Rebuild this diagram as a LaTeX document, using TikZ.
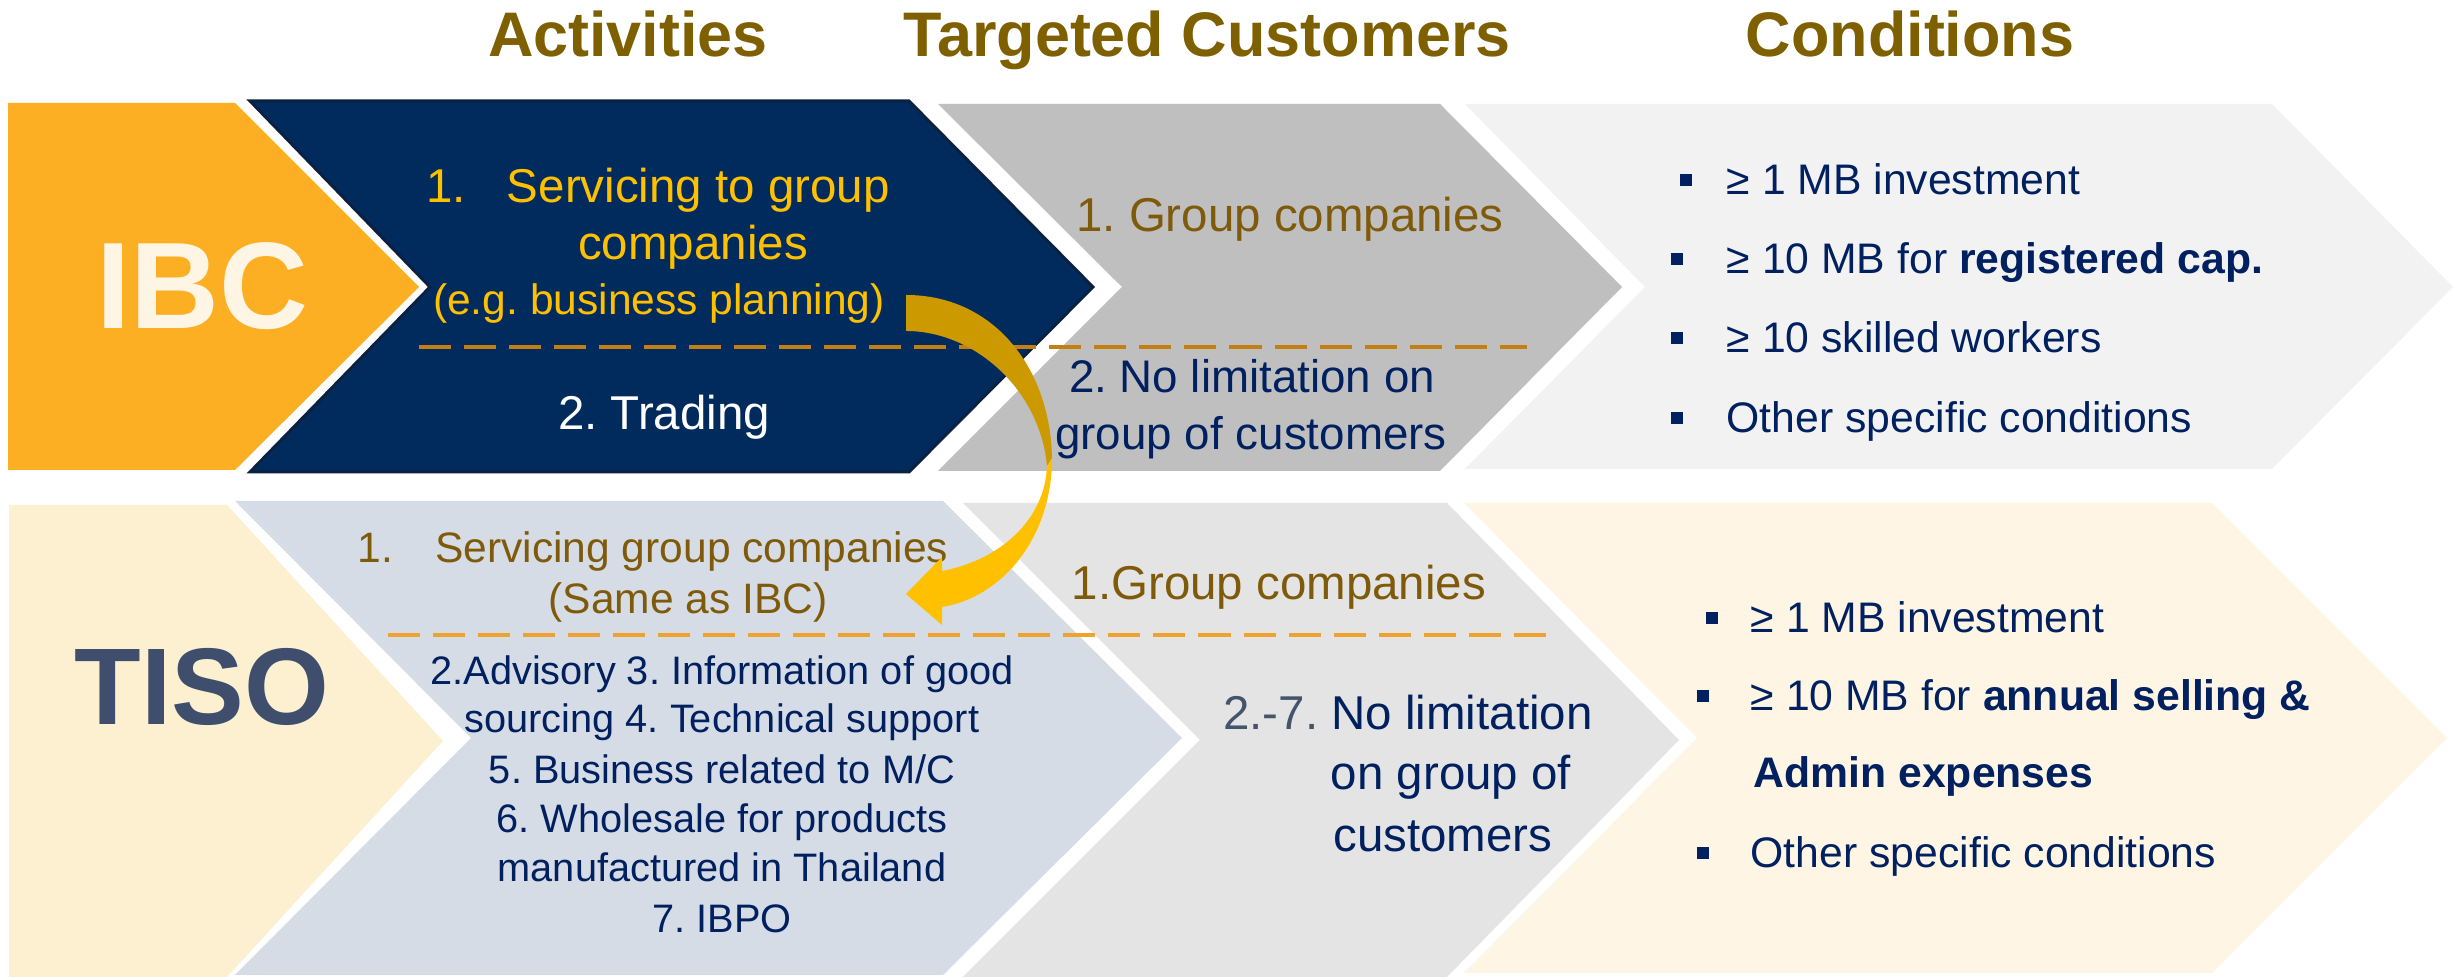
\documentclass[tikz,border=0pt]{standalone}
\usepackage{fontspec}
\setmainfont{Liberation Sans}
\usepackage{xcolor}
\usetikzlibrary{positioning}
\frenchspacing

\definecolor{ibcorange}{HTML}{FCAF22}
\definecolor{ibccream}{HTML}{FFF5E5}
\definecolor{navybox}{HTML}{002B5C}
\definecolor{navyedge}{HTML}{0A2142}
\definecolor{custgray}{HTML}{BFBFBF}
\definecolor{condgray}{HTML}{F2F2F2}
\definecolor{tisoyellow}{HTML}{FDF0D0}
\definecolor{tisoslate}{HTML}{3F4E6D}
\definecolor{tisoblue}{HTML}{D6DCE5}
\definecolor{custlight}{HTML}{E4E4E4}
\definecolor{condcream}{HTML}{FEF5E5}
\definecolor{hdrgold}{HTML}{7F6000}
\definecolor{brown}{HTML}{7F5A0B}
\definecolor{gold}{HTML}{FFC000}
\definecolor{navytext}{HTML}{002060}
\definecolor{slate}{HTML}{44546A}
\definecolor{dashdark}{HTML}{C47E12}
\definecolor{dashlight}{HTML}{F0A22E}
\definecolor{arrowdark}{HTML}{CC9900}

\begin{document}
\begin{tikzpicture}[x=0.01cm, y=-0.01cm,
    hdr/.style={anchor=base, inner sep=0pt, text=hdrgold, font=\fontsize{17.9}{20}\selectfont\bfseries},
    big/.style={anchor=base, inner sep=0pt, font=\fontsize{35}{40}\selectfont\bfseries},
    body/.style={anchor=base, inner sep=0pt, font=\fontsize{13.5}{16}\selectfont},
    small/.style={anchor=base, inner sep=0pt, font=\fontsize{12.1}{14}\selectfont},
    list/.style={anchor=base, inner sep=0pt, text=navytext, font=\fontsize{11.3}{13}\selectfont},
    cond/.style={anchor=base west, inner sep=0pt, text=navytext, font=\fontsize{12.15}{14}\selectfont},
    bullet/.style={fill=navytext, minimum size=0.12cm, inner sep=0pt},
    sep/.style={line width=0.04cm, dash pattern=on 0.32cm off 0.13cm}]

  \fill[white] (0,0) rectangle (2453,977);
  \useasboundingbox (0,0) rectangle (2453,977);

  % chevrons, top row
  \fill[ibcorange] (8,103) -- (235,103) -- (419,287) -- (235,470) -- (8,470) -- cycle;
  \filldraw[fill=navybox, draw=navyedge, line width=0.03cm] (250,101) -- (909,101) -- (1093,287)
    -- (909,472) -- (250,472) -- (430,287) -- cycle;
  \fill[custgray] (938,104) -- (1440,104) -- (1622,287) -- (1440,471) -- (938,471) -- (1122,287) -- cycle;
  \fill[condgray] (1465,104) -- (2272,104) -- (2453,287) -- (2272,469) -- (1465,469) -- (1645,287) -- cycle;

  % chevrons, bottom row
  \fill[tisoyellow] (9,505) -- (227,505) -- (443,741) -- (227,977) -- (9,977) -- cycle;
  \fill[tisoblue] (235,501) -- (943,501) -- (1182,738) -- (943,975) -- (235,975) -- (471,738) -- cycle;
  \fill[custlight] (963,503) -- (1447,503) -- (1679,740) -- (1447,977) -- (963,977) -- (1200,740) -- cycle;
  \fill[condcream] (1464,503) -- (2212,503) -- (2447,738) -- (2212,973) -- (1464,973) -- (1697,738) -- cycle;

  % headers
  \node[hdr] (act) at (628,57) {Activities};
  \node[hdr] (cust) at (1207,57) {Targeted Customers};
  \node[hdr] (cond) at (1910,57) {Conditions};

  \node[big, text=ibccream] (ibc) at (202,329) {IBC};
  \node[big, text=tisoslate, font=\fontsize{31}{36}\selectfont\bfseries] (tiso) at (202,725) {TISO};

  % separators
  \coordinate (sepA) at (419,347);
  \coordinate (sepB) at (1527,347);
  \draw[sep, draw=dashdark] (sepA) -- (sepB);
  \coordinate (sepC) at (388,635);
  \coordinate (sepD) at (1547,635);
  \draw[sep, draw=dashlight] (sepC) -- (sepD);

  % IBC activities
  \node[body, text=gold] (ibcsvc) at (658,203) {1.\hspace{0.41cm}Servicing to group};
  \node[body, text=gold] (ibccomp) at (693,260) {companies};
  \node[small, text=gold] (ibceg) at (659,315) {(e.g. business planning)};
  \node[body, text=white] (ibctrd) at (664,430) {2. Trading};

  % IBC customers
  \node[body, text=brown] (ibcgrp) at (1290,232) {1. Group companies};
  \node[body, text=navytext, font=\fontsize{13}{15}\selectfont] (ibcnolim) at (1252,393) {2. No limitation on};
  \node[body, text=navytext, font=\fontsize{13}{15}\selectfont] (ibccust) at (1251,450) {group of customers};

  % IBC conditions
  \foreach \bx/\y/\t in {1686/195/{≥ 1 MB investment}, 1677/274/{≥ 10 MB for \textbf{registered cap.}},
                         1677/353/{≥ 10 skilled workers}, 1677/433/{Other specific conditions}} {
    \node[bullet] at (\bx,\y-15) {};
    \node[cond] at (1726,\y) {\t};
  }

  % TISO activities
  \node[small, text=brown] (tisosvc) at (653,563) {1.\hspace{0.42cm}Servicing group companies};
  \node[small, text=brown] (tisosame) at (688,614) {(Same as IBC)};
  \foreach \y/\t in {685/{2.Advisory 3. Information of good}, 733/{sourcing 4. Technical support},
                     784/{5. Business related to M/C}, 833/{6. Wholesale for products},
                     882/{manufactured in Thailand}, 933/{7. IBPO}}
    \node[list] at (722,\y) {\t};

  % TISO customers
  \node[body, text=brown] (tisogrp) at (1279,600) {1.Group companies};
  \node[body, text=navytext] (tisonolim) at (1408,730) {\textcolor{slate}{2.-7.} No limitation};
  \node[body, text=navytext] (tisoon) at (1451,790) {on group of};
  \node[body, text=navytext] (tisocust) at (1443,852) {customers};

  % TISO conditions
  \foreach \bx/\y/\t in {1712/633/{≥ 1 MB investment}, 1703/711/{≥ 10 MB for \textbf{annual selling \&}},
                         1703/868/{Other specific conditions}} {
    \node[bullet] at (\bx,\y-15) {};
    \node[cond] at (1750,\y) {\t};
  }
  \node[cond] (tisoadmin) at (1753,788) {\textbf{Admin expenses}};

  % curved arrow IBC -> TISO
  \fill[arrowdark] (906,295) .. controls (995,295) and (1052,370) .. (1052,462)
    -- (1047,466) .. controls (1040,390) and (975,331) .. (906,331) -- cycle;
  \fill[gold] (1052,458) .. controls (1052,540) and (1000,598) .. (942,607)
    -- (942,625) -- (906,594) -- (942,557) -- (942,571)
    .. controls (1000,560) and (1045,520) .. (1047,466) -- cycle;
\end{tikzpicture}
\end{document}
